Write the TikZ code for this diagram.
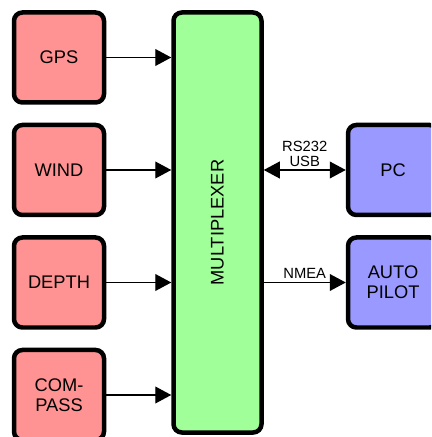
\documentclass[tikz,border=0pt]{standalone}
\usepackage{fontspec}
\setmainfont{Liberation Sans}
\usepackage{tikz}
\usetikzlibrary{arrows.meta, positioning}
\definecolor{SensorRed}{RGB}{255, 146, 146}
\definecolor{MuxGreen}{RGB}{160, 255, 152}
\definecolor{DeviceBlue}{RGB}{153, 153, 255}

\begin{document}
\begin{tikzpicture}[
    node distance=0.45cm and 1.6cm,
    every node/.style={font=\fontsize{13}{14.5}\selectfont, align=center},
    sensor/.style={rectangle, draw=black, fill=SensorRed, rounded corners=6pt, line width=3.2pt, minimum width=2.25cm, minimum height=2.25cm, inner sep=2pt},
    device/.style={rectangle, draw=black, fill=DeviceBlue, rounded corners=6pt, line width=3.2pt, minimum width=2.25cm, minimum height=2.25cm, inner sep=2pt},
    mux/.style={rectangle, draw=black, fill=MuxGreen, rounded corners=6pt, line width=3.2pt, minimum width=2.2cm, minimum height=10.5cm},
    tag/.style={font=\fontsize{10.5}{10.5}\selectfont, inner sep=2pt},
    arrow/.style={-{Triangle[length=0.4cm, width=0.42cm]}, draw=black, line width=1pt},
    biarrow/.style={{Triangle[length=0.4cm, width=0.42cm]}-{Triangle[length=0.4cm, width=0.42cm]}, draw=black, line width=1pt}
  ]
    \fill[white] (0,0) rectangle (10.775,-10.925);
    \clip (0,0) rectangle (10.775,-10.925);

    % Sensors
    \node[sensor] (gps) at (1.475,-1.4375) {GPS};
    \node[sensor, below=of gps] (wind) {WIND};
    \node[sensor, below=of wind] (depth) {DEPTH};
    \node[sensor, below=of depth] (compass) {COM-\\PASS};

    % Multiplexer
    \node[mux, right=1.625cm of gps.north east, anchor=north west] (mx) {};
    \node[rotate=90] (mxlabel) at (mx.center) {MULTIPLEXER};

    % Devices
    \coordinate (pcrow) at (mx.east |- wind);
    \node[device, right=2.05cm of pcrow] (pc) {PC};
    \node[device, below=of pc] (pilot) {AUTO\\PILOT};

    % Connections
    \draw[arrow] (gps.east) -- (gps.east -| mx.west);
    \draw[arrow] (wind.east) -- (wind.east -| mx.west);
    \draw[arrow] (depth.east) -- (depth.east -| mx.west);
    \draw[arrow] (compass.east) -- (compass.east -| mx.west);
    \draw[biarrow] (pc.west -| mx.east) -- node[tag, above] {RS232\\USB} (pc.west);
    \draw[arrow] (pilot.west -| mx.east) -- node[tag, above] {NMEA} (pilot.west);
  \end{tikzpicture}
\end{document}
